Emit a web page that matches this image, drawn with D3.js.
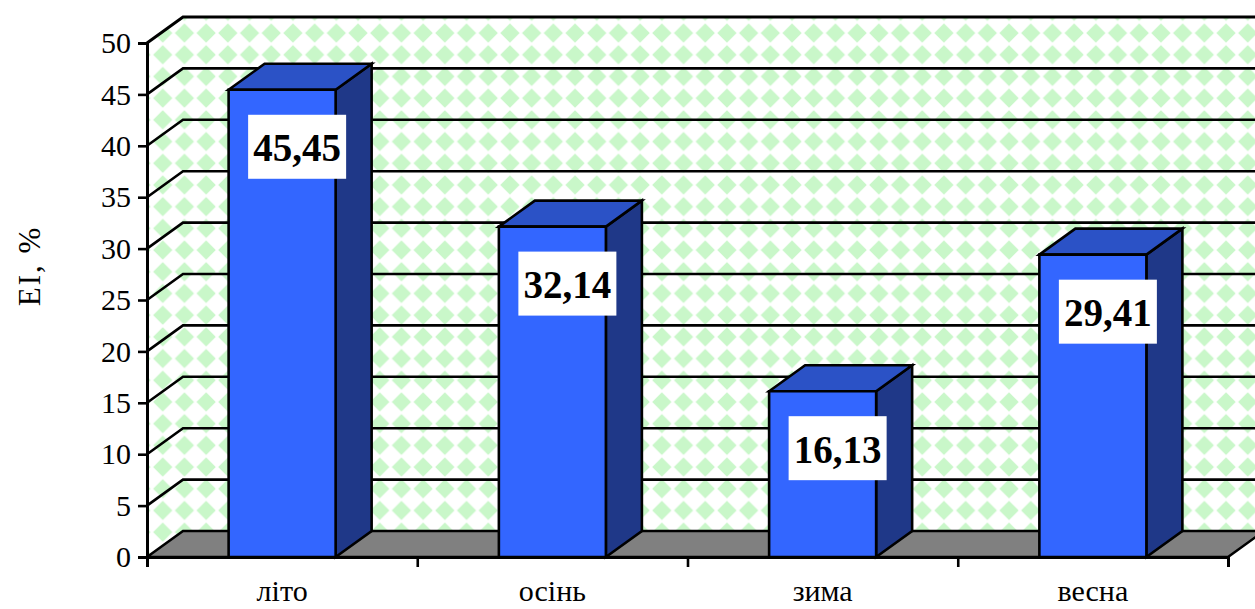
<!DOCTYPE html>
<html>
<head>
<meta charset="utf-8">
<script src="https://cdn.jsdelivr.net/npm/d3@7"></script>
<style>
  html, body { margin: 0; padding: 0; background: #ffffff; }
  svg { display: block; }
  text { font-family: "Liberation Serif", "Times New Roman", serif; fill: #000; }
</style>
</head>
<body>
<svg id="chart" width="1255" height="609"></svg>
<script>
// Seasonal values, %
const categories = ["літо", "осінь", "зима", "весна"];
const values = [45.45, 32.14, 16.13, 29.41];
const valueLabels = ["45,45", "32,14", "16,13", "29,41"];
const yTicks = [0, 5, 10, 15, 20, 25, 30, 35, 40, 45, 50];
const yTitle = "EI, %";

const plotLeft = 147, plotRight = 1228, plotBottom = 557, plotTop = 43;
const dx = 36, dy = -26;          // oblique depth of the 3D box

const svg = d3.select("#chart");

const y = d3.scaleLinear().domain([0, 50]).range([plotBottom, plotTop]);
const x = d3.scaleBand().domain(categories).range([plotLeft, plotRight])
  .paddingInner(0.604).paddingOuter(0.302);
const xEdges = d3.scaleLinear().domain([0, categories.length]).range([plotLeft, plotRight]);

// Diamond pattern for the walls
const P = 21.7, h = 9.6;
const defs = svg.append("defs");
const pat = defs.append("pattern")
  .attr("id", "diamonds")
  .attr("patternUnits", "userSpaceOnUse")
  .attr("x", 0).attr("y", 0.5)
  .attr("width", P).attr("height", P);
pat.append("rect").attr("width", P).attr("height", P).attr("fill", "#ffffff");
pat.append("polygon")
  .attr("points", [[P/2, P/2 - h], [P/2 + h, P/2], [P/2, P/2 + h], [P/2 - h, P/2]].join(" "))
  .attr("fill", "#c9f7c9");

const yTop = y(50), y0 = y(0);
const farRight = plotRight + dx;

// Back wall
svg.append("polygon")
  .attr("points", [[plotLeft + dx, yTop + dy], [farRight, yTop + dy], [farRight, y0 + dy], [plotLeft + dx, y0 + dy]].join(" "))
  .attr("fill", "url(#diamonds)");
// Side wall
svg.append("polygon")
  .attr("points", [[plotLeft, yTop], [plotLeft + dx, yTop + dy], [plotLeft + dx, y0 + dy], [plotLeft, y0]].join(" "))
  .attr("fill", "url(#diamonds)");

// Floor
svg.append("polygon")
  .attr("points", [[plotLeft, y0], [plotLeft + dx, y0 + dy], [farRight, y0 + dy], [plotRight, y0]].join(" "))
  .attr("fill", "#808080")
  .attr("stroke", "#000").attr("stroke-width", 2.6).attr("stroke-linejoin", "miter");

// Gridlines on side and back walls
svg.append("g").selectAll("path")
  .data(yTicks.filter(d => d > 0))
  .join("path")
  .attr("d", d => `M${plotLeft},${y(d)} L${plotLeft + dx},${y(d) + dy} L${farRight + 10},${y(d) + dy}`)
  .attr("fill", "none")
  .attr("stroke", "#000")
  .attr("stroke-width", d => d === 50 ? 3 : 2.6);

// Bars
const barColors = { front: "#3366ff", top: "#2b52c6", side: "#1f3888" };
const bars = svg.append("g").selectAll("g")
  .data(categories.map((c, i) => ({ c, v: values[i], label: valueLabels[i] })))
  .join("g");

bars.each(function(d) {
  const g = d3.select(this);
  const x0 = x(d.c), x1 = x(d.c) + x.bandwidth();
  const yt = y(d.v);
  const face = (pts, fill) => g.append("polygon")
    .attr("points", pts.join(" "))
    .attr("fill", fill)
    .attr("stroke", "#000")
    .attr("stroke-width", 2.6)
    .attr("stroke-linejoin", "miter");
  face([[x1, yt], [x1 + dx, yt + dy], [x1 + dx, y0 + dy], [x1, y0]], barColors.side);
  face([[x0, yt], [x0 + dx, yt + dy], [x1 + dx, yt + dy], [x1, yt]], barColors.top);
  face([[x0, yt], [x1, yt], [x1, y0], [x0, y0]], barColors.front);
});

// Value labels
const boxW = 98, boxH = 64;
bars.each(function(d) {
  const g = d3.select(this);
  const cx = x(d.c) + x.bandwidth() / 2 + 15;
  const by = y(d.v) + 25;
  g.append("rect")
    .attr("x", cx - boxW / 2).attr("y", by)
    .attr("width", boxW).attr("height", boxH)
    .attr("fill", "#ffffff");
  g.append("text")
    .attr("x", cx).attr("y", by + boxH / 2 + 1)
    .attr("text-anchor", "middle")
    .attr("dominant-baseline", "central")
    .attr("font-size", 39).attr("font-weight", "bold")
    .text(d.label);
});

// Y axis
const yAxis = svg.append("g")
  .attr("transform", `translate(${plotLeft},0)`)
  .call(d3.axisLeft(y).tickValues(yTicks).tickSize(9).tickPadding(7).tickFormat(d3.format("d")));
yAxis.select(".domain").attr("stroke", "#000").attr("stroke-width", 3);
yAxis.selectAll(".tick line").attr("stroke", "#000").attr("stroke-width", 2.6);
yAxis.selectAll(".tick text")
  .attr("font-family", "Liberation Serif, Times New Roman, serif")
  .attr("font-size", 30).attr("fill", "#000");

// X axis: ticks between categories
const xAxis = svg.append("g")
  .attr("transform", `translate(0,${y0})`)
  .call(d3.axisBottom(xEdges).tickValues(d3.range(categories.length + 1)).tickSize(10).tickFormat(""));
xAxis.select(".domain").attr("stroke", "#000").attr("stroke-width", 3);
xAxis.selectAll(".tick line").attr("stroke", "#000").attr("stroke-width", 2.6);

// Category labels
svg.append("g").selectAll("text")
  .data(categories)
  .join("text")
  .attr("x", d => x(d) + x.bandwidth() / 2)
  .attr("y", 601)
  .attr("text-anchor", "middle")
  .attr("font-size", 30)
  .text(d => d);

// Y title
svg.append("text")
  .attr("transform", `translate(40,266) rotate(-90)`)
  .attr("text-anchor", "middle")
  .attr("font-size", 31)
  .attr("letter-spacing", 2)
  .text(yTitle);
</script>
</body>
</html>
